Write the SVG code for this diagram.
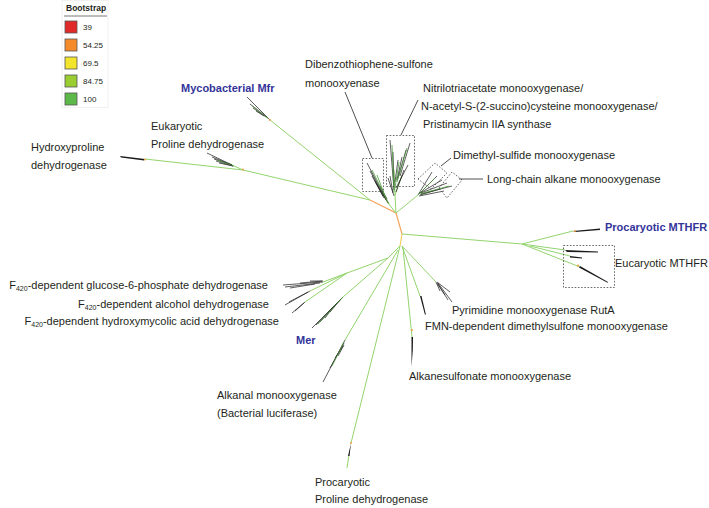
<svg xmlns="http://www.w3.org/2000/svg" width="709" height="508" viewBox="0 0 709 508">
<style>
text{font-family:"Liberation Sans",Arial,sans-serif;font-size:11px;fill:#231f20}
.b{font-weight:bold;fill:#33349a}
.lg{font-size:8px}
.lt{font-size:8.5px;font-weight:bold}
.g{stroke:#93d46e;stroke-width:1;fill:none}
.o{stroke:#f5a45e;stroke-width:1.2;fill:none}
.y{stroke:#f2cf5a;stroke-width:1.2;fill:none}
.k{stroke:#1a1a1a;stroke-width:0.7;fill:none}
.kg{stroke:#4a9a3a;stroke-width:0.8;fill:none}
.w{fill:#1a1a1a;stroke:none}
.lead{stroke:#231f20;stroke-width:0.8;fill:none}
.box{stroke:#444;stroke-width:0.8;fill:none;stroke-dasharray:1.6 1.6}
.sq{stroke:#555;stroke-width:0.8}
.dot{fill:#f0a040}
</style>

<g id="legend">
<rect x="62" y="0.5" width="46" height="107" fill="#fff" stroke="#eeeeee" stroke-width="0.8"/>
<text class="lt" x="66" y="11">Bootstrap</text>
<line x1="64" y1="16" x2="107" y2="16" stroke="#555" stroke-width="0.8"/>
<rect class="sq" x="65" y="21" width="12" height="12" fill="#e02a2a"/>
<text class="lg" x="83" y="30">39</text>
<rect class="sq" x="65" y="39" width="12" height="12" fill="#f58a2a"/>
<text class="lg" x="83" y="48">54.25</text>
<rect class="sq" x="65" y="57" width="12" height="12" fill="#f2e52b"/>
<text class="lg" x="83" y="66">69.5</text>
<rect class="sq" x="65" y="75" width="12" height="12" fill="#9acd32"/>
<text class="lg" x="83" y="84">84.75</text>
<rect class="sq" x="65" y="93" width="12" height="12" fill="#5cb848"/>
<text class="lg" x="83" y="102">100</text>
</g>

<g id="connectors">
<path class="o" d="M370,200 L396,213 L402,234"/>
<path class="y" d="M402,234 L400,246"/>
<path class="g" d="M370,200 L270,120"/>
<path class="g" d="M370,200 L243,170 L145,159"/>
<path class="g" d="M243,170 L232,165"/>
<path class="g" d="M396,213 L388,203 L376,183"/>
<path class="g" d="M396,213 L395,195 L394,170"/>
<path class="g" d="M395,195 L402,175"/>
<path class="g" d="M396,213 L418,195"/>
<path class="g" d="M402,234 L522,244 L573,231"/>
<path class="g" d="M522,244 L565,250"/>
<path class="g" d="M530,246 L570,256"/>
<path class="g" d="M522,244 L580,267"/>
<path class="g" d="M400,246 L388,258 L347,273"/>
<path class="g" d="M347,273 L323,282"/>
<path class="g" d="M347,273 L310,291"/>
<path class="g" d="M347,273 L305,302"/>
<path class="g" d="M388,258 L343,297"/>
<path class="g" d="M398,250 L345,340"/>
<path class="g" d="M400,246 L351,443"/>
<path class="g" d="M349,455 L347,468"/>
<path class="g" d="M402,246 L436,282"/>
<path class="g" d="M402,246 L420,296"/>
<path class="g" d="M403,248 L412,337"/>
</g>

<g id="clade-hydroxyproline">
<polygon class="w" points="145,159 120,156 121,157.5 144,160.5"/>
<circle class="dot" cx="145" cy="159.5" r="1"/>
<text x="31" y="151">Hydroxyproline</text>
<text x="31" y="169">dehydrogenase</text>
</g>

<g id="clade-euk-proline">
<path class="k" d="M232,165 L207,153 M232,165 L212,157 M232,165 L214,159 M233,166 L216,161 M233,166 L219,163"/>
<path class="kg" d="M234,166 L217,160"/>
<circle class="dot" cx="243" cy="169.5" r="1"/>
<text x="151" y="130">Eukaryotic</text>
<text x="151" y="148">Proline dehydrogenase</text>
</g>

<g id="clade-mfr">
<path class="k" d="M270,120 L247,97 M268,118 L250,104 M266,117 L253,108 M264,116 L256,111"/>
<path class="kg" d="M269,119 L252,106"/>
<circle class="dot" cx="270" cy="120" r="1"/>
<text class="b" x="181" y="92">Mycobacterial Mfr</text>
</g>

<g id="clade-dibenzo">
<path class="k" d="M388,203 L367,163 M386,200 L370,171 M384,198 L372,176 M383,196 L375,181 M387,199 L380,186"/>
<path class="kg" d="M389,204 L372,170 M385,196 L377,175"/>
<rect class="box" x="362.5" y="158.5" width="21" height="33"/>
<path class="lead" d="M345,92 L372,158"/>
<text x="305" y="68">Dibenzothiophene-sulfone</text>
<text x="305" y="87">monooxyenase</text>
</g>

<g id="clade-nitrilo">
<path class="k" d="M394,190 L390,140 M394,185 L393,152 M395,182 L398,160 M397,180 L402,157 M398,178 L406,150 M400,176 L410,143 M396,192 L404,170 M393,193 L390,176 M396,188 L408,165 M394,196 L388,178"/>
<path class="kg" d="M394,192 L392,145 M397,182 L407,148 M395,188 L399,162"/>
<rect class="box" x="386.5" y="135.5" width="28" height="51"/>
<path class="lead" d="M418,100 L401,135"/>
<text x="423" y="92">Nitrilotriacetate monooxygenase/</text>
<text x="421" y="110">N-acetyl-S-(2-succino)cysteine monooxygenase/</text>
<text x="423" y="128">Pristinamycin IIA synthase</text>
</g>

<g id="clade-dimethyl">
<path class="k" d="M418,195 L432,172 M419,194 L437,176 M420,193 L442,180 M421,193 L447,183 M421,194 L452,186 M420,195 L440,189 M419,196 L444,191"/>
<path class="kg" d="M418,195 L435,178 M420,194 L449,186"/>
<polygon class="box" points="418,179 435,163 447,173 431,189"/>
<polygon class="box" points="439,188 452,172 462,180 447,198"/>
<path class="lead" d="M451,158 L441,166"/>
<path class="lead" d="M459,179 L483,179"/>
<text x="453" y="159">Dimethyl-sulfide monooxygenase</text>
<text x="487" y="183">Long-chain alkane monooxygenase</text>
</g>

<g id="clade-pro-mthfr">
<polygon class="w" points="573,231 600,228.5 600,230 575,232"/>
<circle class="dot" cx="575" cy="231" r="1"/>
<text class="b" x="605" y="231">Procaryotic MTHFR</text>
</g>

<g id="clade-euk-mthfr">
<polygon class="w" points="565,250 598,251.5 598,252.5 567,252"/>
<polygon class="w" points="570,256 582,257.5 582,258.5 570,257.5"/>
<polygon class="w" points="580,266 608,282 607.5,282.8 579,267.5"/>
<circle class="dot" cx="578" cy="265.5" r="1"/>
<rect class="box" x="563.5" y="245.5" width="51" height="42"/>
<text x="615" y="267">Eucaryotic MTHFR</text>
</g>

<g id="clade-f420">
<path class="k" d="M323,282 L283,285 M320,283 L285,287 M315,284 L290,288 M323,281 L300,283 M322,281 L310,281"/>
<path class="k" d="M310,291 L285,305 M308,292 L289,302"/>
<path class="k" d="M305,302 L292,313 M304,303 L295,311"/>
<text x="268" y="289" text-anchor="end">F<tspan font-size="7" dy="2">420</tspan><tspan dy="-2">-dependent glucose-6-phosphate dehydrogenase</tspan></text>
<text x="269" y="308" text-anchor="end">F<tspan font-size="7" dy="2">420</tspan><tspan dy="-2">-dependent alcohol dehydrogenase</tspan></text>
<text x="279" y="325" text-anchor="end">F<tspan font-size="7" dy="2">420</tspan><tspan dy="-2">-dependent hydroxymycolic acid dehydrogenase</tspan></text>
</g>

<g id="clade-mer">
<path class="k" d="M343,297 L312,328 M340,300 L316,325 M337,303 L320,322 M334,306 L325,318 M341,299 L330,312"/>
<path class="kg" d="M343,297 L318,324"/>
<text class="b" x="296" y="344">Mer</text>
</g>

<g id="clade-alkanal">
<path class="k" d="M345,340 L323,382 M344,343 L330,368 M343,346 L335,358 M344,345 L338,356"/>
<path class="kg" d="M344,342 L332,366"/>
<text x="217" y="399">Alkanal monooxygenase</text>
<text x="217" y="417">(Bacterial luciferase)</text>
</g>

<g id="clade-pro-proline">
<polygon class="w" points="351,443 348,456 349.5,456"/>
<circle class="dot" cx="351" cy="443" r="1"/>
<text x="315" y="486">Procaryotic</text>
<text x="315" y="503">Proline dehydrogenase</text>
</g>

<g id="clade-pyrimidine">
<path class="k" d="M436,282 L440,291 M437,283 L445,295 M438,284 L448,300 M438,283 L452,302 M437,282 L450,292"/>
<text x="452" y="314">Pyrimidine monooxygenase RutA</text>
</g>

<g id="clade-fmn">
<polygon class="w" points="420,296 425,315 425.8,314 421.5,296"/>
<text x="425" y="330">FMN-dependent dimethylsulfone monooxygenase</text>
</g>

<g id="clade-alkanesulfonate">
<polygon class="w" points="411.5,337 411.5,367 412.8,350 413,337"/>
<circle class="dot" cx="412" cy="330" r="1"/>
<text x="409" y="380">Alkanesulfonate monooxygenase</text>
</g>
</svg>
